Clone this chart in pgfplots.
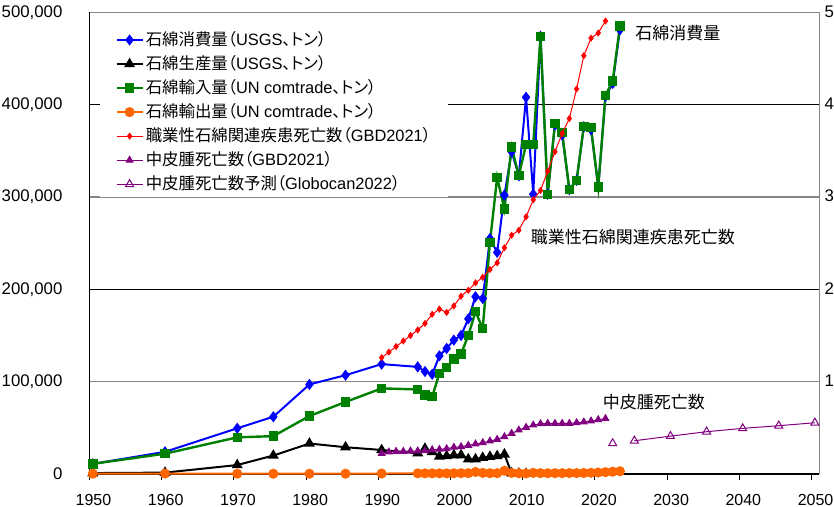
\documentclass[border=0pt]{standalone}
\usepackage{pgfplots}
\usepackage{pgfplotstable}
\pgfplotsset{compat=1.18}
\usepackage{fontspec}
\setmainfont{Liberation Sans}
\newfontfamily\cjk[RawFeature=+palt]{Noto Sans CJK JP}
\newcommand{\J}[1]{{\cjk #1}}
\definecolor{cblue}{RGB}{0,0,255}
\definecolor{cgreen}{RGB}{0,128,0}
\definecolor{corange}{RGB}{255,102,0}
\definecolor{cred}{RGB}{255,0,0}
\definecolor{cpurple}{RGB}{128,0,128}
\definecolor{gridgray}{RGB}{134,134,134}

% asbestos consumption (USGS, t)
\pgfplotstableread{
year val
1950 11000
1960 24000
1970 49500
1975 62000
1980 97000
1985 107000
1990 119000
1995 116000
1996 111000
1997 108000
1998 128000
1999 136000
2000 145000
2001 150000
2002 168000
2003 192000
2004 190000
2005 255000
2006 240000
2007 302000
2008 349000
2009 323000
2010 408000
2011 303000
2012 474000
2013 303000
2014 378000
2015 367000
2016 308000
2017 318000
2018 376000
2019 373000
2020 311000
2021 409000
2022 423000
2023 481000
}\consumption

% asbestos production (USGS, t)
\pgfplotstableread{
year val
1950 1000
1960 1500
1970 9700
1975 20000
1980 33000
1985 29000
1990 26000
1995 22500
1996 27500
1997 24000
1998 19000
1999 19500
2000 20500
2001 20500
2002 16000
2003 16000
2004 17700
2005 18800
2006 19500
2007 21300
2008 1000
2009 500
2010 300
}\production

% asbestos imports (UN comtrade, t)
\pgfplotstableread{
year val
1950 11000
1960 22000
1970 39700
1975 41000
1980 62800
1985 78000
1990 92700
1995 91600
1996 85500
1997 83700
1998 109000
1999 115500
2000 124400
2001 130000
2002 150000
2003 175700
2004 157600
2005 251000
2006 321000
2007 287000
2008 354000
2009 323000
2010 357000
2011 357000
2012 474000
2013 303000
2014 379500
2015 370000
2016 308000
2017 318000
2018 376600
2019 375000
2020 311000
2021 410000
2022 425600
2023 485000
}\imports

% asbestos exports (UN comtrade, t)
\pgfplotstableread{
year val
1950 300
1960 500
1970 300
1975 300
1980 300
1985 300
1990 500
1995 700
1996 700
1997 700
1998 700
1999 700
2000 800
2001 900
2002 900
2003 2200
2004 1200
2005 900
2006 900
2007 3500
2008 1200
2009 800
2010 600
2011 1200
2012 900
2013 800
2014 900
2015 900
2016 1000
2017 1000
2018 1100
2019 1300
2020 1600
2021 2000
2022 2500
2023 3000
}\exports

% occupational asbestos-related deaths (GBD2021)
\pgfplotstableread{
year val
1990 1260
1991 1320
1992 1380
1993 1440
1994 1500
1995 1560
1996 1630
1997 1730
1998 1786
1999 1750
2000 1820
2001 1926
2002 1990
2003 2070
2004 2130
2005 2215
2006 2287
2007 2450
2008 2586
2009 2640
2010 2785
2011 2970
2012 3070
2013 3280
2014 3490
2015 3687
2016 3850
2017 4170
2018 4530
2019 4720
2020 4776
2021 4906
}\occdeaths

% mesothelioma deaths (GBD2021)
\pgfplotstableread{
year val
1990 222
1991 238
1992 245
1993 245
1994 249
1995 249
1996 253
1997 260
1998 267
1999 274
2000 289
2001 296
2002 310
2003 325
2004 339
2005 357
2006 375
2007 404
2008 440
2009 476
2010 505
2011 530
2012 544
2013 548
2014 548
2015 548
2016 548
2017 555
2018 563
2019 574
2020 588
2021 600
}\meso

% mesothelioma deaths projection (Globocan2022)
\pgfplotstableread{
year val
2022 332
2023 nan
2025 360
2030 410
2035 458
2040 494
2045 523
2050 555
}\globocan

\begin{document}
\begin{tikzpicture}
\pgfplotsset{
  base/.style={
    scale only axis, width=364.85pt, height=230.85pt,
    at={(0pt,0pt)}, anchor=south west,
    xmin=1949.54, xmax=2050.6, clip=false,
    /pgf/number format/assume math mode=true,
    legend image code/.code={\draw[mark repeat=2,mark phase=2,##1] plot coordinates {(0pt,0pt) (6.5pt,0pt) (13pt,0pt)};},
  }
}
\begin{axis}[base,
  axis x line*=bottom, axis y line*=left,
  axis line style={black, line width=0.6pt},
  ymin=0, ymax=500000, ytick={0,100000,200000,300000,400000,500000},
  ymajorgrids, grid style={gridgray, line width=0.6pt},
  xtick={1949.54,1959.54,1969.54,1979.54,1989.54,1999.54,2009.54,2019.54,2029.54,2039.54,2049.54},
  xticklabels={1950,1960,1970,1980,1990,2000,2010,2020,2030,2040,2050},
  tick align=outside, major tick length=3pt,
  x tick style={black, line width=0.5pt},
  y tick style={draw=none},
  scaled y ticks=false,
  xticklabel style={font=\fontsize{8}{9}\selectfont, inner sep=0.4pt, yshift=-6.4pt, xshift=2pt},
  yticklabel style={font=\fontsize{8.4}{10}\selectfont, /pgf/number format/fixed, /pgf/number format/1000 sep={,}, xshift=-7pt},
]
\draw[black, line width=0.6pt] (axis cs:1949.54,200000) -- (axis cs:2050.6,200000);
\draw[black, line width=0.6pt] (axis cs:1949.54,400000) -- (axis cs:2050.6,400000);
\addplot[cblue, line width=1pt, mark=diamond*, mark size=2pt] table[x=year,y=val] {\consumption};
\addplot[black, line width=1pt, mark=triangle*, mark size=2.2pt] table[x=year,y=val] {\production};
\addplot[cgreen, line width=1.2pt, mark=square*, mark size=1.75pt] table[x=year,y=val] {\imports};
\addplot[corange, line width=1pt, mark=*, mark size=2pt] table[x=year,y=val] {\exports};
\node[anchor=west, inner sep=0pt, font=\fontsize{8.5}{10}\selectfont] at (axis cs:2025.1,478000) {\J{石綿消費量}};
\node[anchor=west, inner sep=0pt, font=\fontsize{8.5}{10}\selectfont] at (axis cs:2010.6,256500) {\J{職業性石綿関連疾患死亡数}};
\node[anchor=west, inner sep=0pt, font=\fontsize{8.5}{10}\selectfont] at (axis cs:2020.6,78000) {\J{中皮腫死亡数}};
\end{axis}
\begin{axis}[base,
  axis x line=none, axis y line*=right,
  y axis line style={gridgray, line width=0.6pt},
  ymin=0, ymax=5000, ytick={0,1000,2000,3000,4000,5000},
  y tick style={draw=none},
  scaled y ticks=false,
  yticklabel style={font=\fontsize{8.4}{10}\selectfont, /pgf/number format/fixed, /pgf/number format/1000 sep={,}, text width=21.5pt, align=right, inner sep=2pt},
  legend cell align=left,
  legend style={at={(0.0144,0.968)}, anchor=north west, draw=none, fill=white,
    font=\fontsize{8.2}{9.5}\selectfont, inner xsep=7.5pt, inner ysep=1pt, row sep=1.5pt,
    nodes={inner sep=1pt}},
]
\addlegendimage{cblue, line width=1pt, mark=diamond*, mark size=2pt}
\addlegendentry{\J{石綿消費量（}USGS\J{、トン）}}
\addlegendimage{black, line width=1pt, mark=triangle*, mark size=2.2pt}
\addlegendentry{\J{石綿生産量（}USGS\J{、トン）}}
\addlegendimage{cgreen, line width=1.2pt, mark=square*, mark size=1.75pt}
\addlegendentry{\J{石綿輸入量（}UN comtrade\J{、トン）}}
\addlegendimage{corange, line width=1pt, mark=*, mark size=2pt}
\addlegendentry{\J{石綿輸出量（}UN comtrade\J{、トン）}}
\addplot[cred, line width=0.5pt, mark=diamond*, mark size=1.4pt] table[x=year,y=val] {\occdeaths};
\addlegendentry{\J{職業性石綿関連疾患死亡数（}GBD2021\J{）}}
\addplot[cpurple, line width=0.5pt, mark=triangle*, mark size=1.9pt] table[x=year,y=val] {\meso};
\addlegendentry{\J{中皮腫死亡数（}GBD2021\J{）}}
\addplot[cpurple, line width=0.5pt, mark=triangle, mark size=2.3pt, mark options={fill=white}, unbounded coords=jump] table[x=year,y=val] {\globocan};
\addlegendentry{\J{中皮腫死亡数予測（}Globocan2022\J{）}}
\end{axis}
\pgfresetboundingbox
\useasboundingbox (-44.75pt,-16.5pt) rectangle (372.25pt,237pt);
\end{tikzpicture}
\end{document}
